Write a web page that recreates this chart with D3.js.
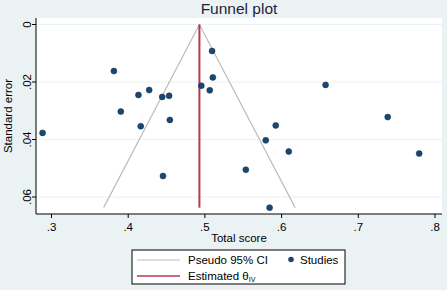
<!DOCTYPE html>
<html><head><meta charset="utf-8">
<script src="https://cdn.jsdelivr.net/npm/d3@7"></script>
<style>body{margin:0;background:#eaf2f3;}svg{display:block;font-family:"Liberation Sans",Arial,sans-serif;}</style>
</head><body>
<svg id="c" width="447" height="290"></svg>
<script>
const studyX = [0.510,0.382,0.511,0.658,0.496,0.507,0.428,0.414,0.445,0.454,0.391,0.455,0.739,0.417,0.593,0.289,0.580,0.610,0.780,0.554,0.446,0.585];
const studySE = [0.0092,0.0162,0.0184,0.0210,0.0213,0.0229,0.0228,0.0245,0.0252,0.0248,0.0303,0.0332,0.0322,0.0354,0.0351,0.0377,0.0403,0.0442,0.0449,0.0505,0.0527,0.0637];
const theta = 0.4935;
const maxSE = 0.0637;
const xTicks = [0.3,0.4,0.5,0.6,0.7,0.8];
const yTicks = [0,0.02,0.04,0.06];
const fmt = v => v===0 ? "0" : String(v).replace(/^0/,"");

const svg = d3.select("#c");
svg.append("rect").attr("width",447).attr("height",290).attr("fill","#eaf2f3");
const L=36,R=442,T=18,B=214;
const x = d3.scaleLinear().domain([0.3,0.8]).range([51,434.5]);
const y = d3.scaleLinear().domain([0,0.06]).range([24.5,197]);
svg.append("rect").attr("x",L).attr("y",T).attr("width",R-L).attr("height",B-T).attr("fill","#fff");
// grid
svg.append("g").selectAll("line").data(yTicks).join("line")
  .attr("x1",L).attr("x2",R).attr("y1",d=>y(d)).attr("y2",d=>y(d))
  .attr("stroke","#eaf2f3").attr("stroke-width",1);
// funnel
const z=1.96;
const funnel=[[theta-z*maxSE,maxSE],[theta,0],[theta+z*maxSE,maxSE]];
svg.append("path").attr("d",d3.line().x(d=>x(d[0])).y(d=>y(d[1]))(funnel))
  .attr("fill","none").attr("stroke","#bdbdbd").attr("stroke-width",1.2);
svg.append("line").attr("x1",x(theta)).attr("x2",x(theta)).attr("y1",y(0)).attr("y2",y(maxSE))
  .attr("stroke","#b5384f").attr("stroke-width",2);
// points
svg.append("g").selectAll("circle").data(studyX.map((v,i)=>[v,studySE[i]])).join("circle")
  .attr("cx",d=>x(d[0])).attr("cy",d=>y(d[1])).attr("r",3)
  .attr("fill","#1a476f").attr("stroke","#0f2f4f").attr("stroke-width",0.5);
// axes
const ax = svg.append("g").attr("transform",`translate(0,${B})`)
  .call(d3.axisBottom(x).tickValues(xTicks).tickFormat(fmt).tickSize(4).tickSizeOuter(0));
ax.select(".domain").attr("d",`M${L},0H${R}`);
ax.selectAll("text").attr("font-size",11.5).attr("fill","#000").attr("dy","0.9em").attr("font-family","Liberation Sans, Arial, sans-serif");
const ay = svg.append("g").attr("transform",`translate(${L},0)`)
  .call(d3.axisLeft(y).tickValues(yTicks).tickFormat(fmt).tickSize(4).tickSizeOuter(0));
ay.select(".domain").attr("d",`M0,${T}V${B}`);
ay.selectAll(".tick").attr("transform","translate(0,0)");
ay.selectAll(".tick line").attr("y1",d=>y(d)).attr("y2",d=>y(d));
ay.selectAll("text").attr("font-size",11.5).attr("fill","#000")
  .attr("font-family","Liberation Sans, Arial, sans-serif")
  .attr("text-anchor","middle").attr("x",-9).attr("y",d=>y(d)).attr("dy","0.35em")
  .attr("transform",d=>`rotate(-90,-9,${y(d)})`);
svg.selectAll(".domain, .tick line").attr("stroke","#000");
// titles
svg.append("text").attr("x",239).attr("y",14).attr("text-anchor","middle").attr("font-size",15.5).attr("fill","#1e1e3c").text("Funnel plot");
svg.append("text").attr("x",239).attr("y",242).attr("text-anchor","middle").attr("font-size",11.5).attr("fill","#000").text("Total score");
svg.append("text").attr("transform","translate(12,116) rotate(-90)").attr("text-anchor","middle").attr("font-size",11.5).attr("fill","#000").text("Standard error");
// legend
const lg=svg.append("g");
lg.append("rect").attr("x",132).attr("y",250).attr("width",213).attr("height",34).attr("fill","#fff").attr("stroke","#000").attr("stroke-width",1);
lg.append("line").attr("x1",137).attr("x2",180).attr("y1",260).attr("y2",260).attr("stroke","#bdbdbd").attr("stroke-width",1.2);
lg.append("text").attr("x",188).attr("y",264).attr("font-size",11.5).text("Pseudo 95% CI");
lg.append("circle").attr("cx",291).attr("cy",259.5).attr("r",2.8).attr("fill","#1a476f");
lg.append("text").attr("x",300).attr("y",264).attr("font-size",11.5).text("Studies");
lg.append("line").attr("x1",137).attr("x2",180).attr("y1",276).attr("y2",276).attr("stroke","#b5384f").attr("stroke-width",1.5);
const t2=lg.append("text").attr("x",188).attr("y",280).attr("font-size",11.5);
t2.append("tspan").text("Estimated θ");
t2.append("tspan").attr("font-size",7).attr("dy",2).text("IV");
</script>
</body></html>
